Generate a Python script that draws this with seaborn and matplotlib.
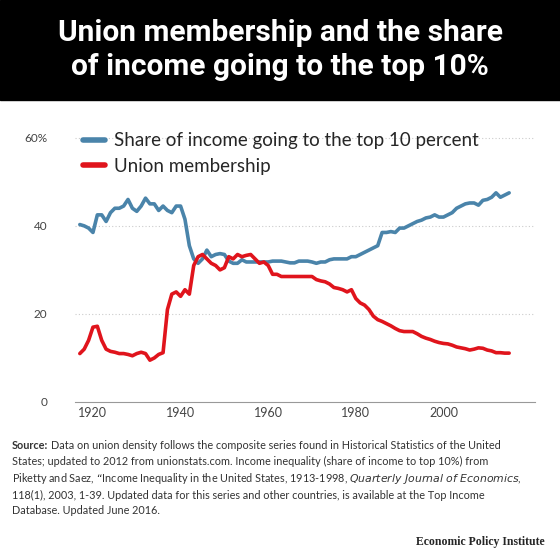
import numpy as np
import pandas as pd
import matplotlib
matplotlib.use("Agg")
import matplotlib.pyplot as plt
import seaborn as sns

years = list(range(1917, 2016))
top10 = [40.3, 40, 39.5, 38.5, 42.5, 42.5, 41, 43, 44, 44, 44.5, 46, 44, 43.3, 44.5, 46.3, 45, 45, 43.5, 44.5,
         43.5, 43, 44.5, 44.5, 41.5, 35.5, 32.5, 31.5, 32.5, 34.5, 33, 33.5, 33.7, 33.5, 32, 31.5, 31.5, 32.3, 31.8, 31.8,
         31.8, 31.8, 31.8, 31.8, 32, 32, 32, 31.8, 31.6, 31.6, 32, 32, 32, 31.8, 31.5, 31.8, 31.8, 32.3, 32.5, 32.5,
         32.5, 32.5, 33, 33, 33.5, 34, 34.5, 35, 35.5, 38.5, 38.5, 38.7, 38.5, 39.5, 39.5, 40, 40.5, 41, 41.3, 41.8,
         42, 42.5, 42, 42, 42.5, 43, 44, 44.5, 45, 45.2, 45.2, 44.7, 45.8, 46, 46.5, 47.5, 46.5, 47, 47.5]
union = [11, 12, 14, 17, 17.2, 14, 12, 11.5, 11.3, 11, 11, 10.8, 10.5, 11, 11.3, 11, 9.5, 10, 10.8, 11.2,
         21, 24.5, 25, 24, 25.5, 24.5, 31, 33, 33.5, 32.5, 31.5, 31, 30, 30.5, 33, 32.5, 33.5, 33, 33.3, 33.5,
         32.5, 31.5, 31.8, 31, 29, 29, 28.5, 28.5, 28.5, 28.5, 28.5, 28.5, 28.5, 28.5, 27.8, 27.5, 27.3, 26.8, 26, 25.8,
         25.5, 25, 25.5, 23.5, 22.5, 22, 21, 19.5, 18.7, 18.3, 17.8, 17.3, 16.7, 16.2, 16, 16, 16, 15.5, 14.9, 14.5,
         14.2, 13.8, 13.5, 13.3, 13.2, 12.9, 12.5, 12.3, 12.1, 11.8, 12, 12.3, 12.2, 11.8, 11.6, 11.2, 11.2, 11.1, 11.1]
series_names = ["Share of income going to the top 10 percent", "Union membership"]
yticks = [0, 20, 40, 60]
ytick_labels = ["0", "20", "40", "60%"]

df = pd.DataFrame({"year": years * 2,
                   "value": top10 + union,
                   "series": [series_names[0]] * len(years) + [series_names[1]] * len(years)})

sns.set_style("white")
plt.rcParams['font.family'] = ['Lato', 'DejaVu Sans']
fig = plt.figure(figsize=(5.6, 5.6), dpi=100)
fig.patch.set_facecolor("white")
fig.patches.append(matplotlib.patches.Rectangle((0, 1 - 100/560), 1, 100/560, transform=fig.transFigure,
                                                color="black", zorder=0))
fig.text(0.5, 1 - 50/560, "Union membership and the share\nof income going to the top 10%", ha="center",
         va="center", color="white", fontsize=21.5, fontweight="bold", linespacing=1.25,
         family=["Roboto", "DejaVu Sans"])

ax = fig.add_axes([75/560, 1 - 402/560, 460/560, 273/560])
sns.lineplot(data=df, x="year", y="value", hue="series", palette=["#4a84aa", "#e0141c"], linewidth=2.6, ax=ax)
ax.set_xlim(1915.9, 2020.9)
ax.set_ylim(0, 62)
ax.set_yticks(yticks)
ax.set_yticklabels(ytick_labels, fontsize=8.5, color="#444444")
ax.set_xticks([1920, 1940, 1960, 1980, 2000])
ax.tick_params(axis="x", labelsize=9, colors="#444444", length=0)
ax.tick_params(axis="y", length=0, pad=20)
for yl in [20, 40, 60]:
    ax.axhline(yl, color="#cccccc", linestyle=(0, (1, 2)), linewidth=0.8, zorder=0)
ax.set_xlabel("")
ax.set_ylabel("")
for s in ["top", "right", "left"]:
    ax.spines[s].set_visible(False)
ax.spines["bottom"].set_color("#999999")
ax.legend(frameon=False, loc="upper left", bbox_to_anchor=(0.0, 1.015), fontsize=13.5,
          handlelength=1.2, labelspacing=0.45, borderaxespad=0, handletextpad=0.5)
for ln in ax.get_legend().get_lines():
    ln.set_linewidth(4)

fig.canvas.draw()
r = fig.canvas.get_renderer()
t0 = fig.text(12/560, 1 - 440/560, "Source:", ha="left", va="top", fontsize=7.8, color="#333333",
              fontweight="bold")
w = t0.get_window_extent(r).width / 560
first = "Data on union density follows the composite series found in Historical Statistics of the United"
fig.text(12/560 + w + 3/560, 1 - 440/560, first, ha="left", va="top", fontsize=7.8, color="#333333")
src = ("States; updated to 2012 from unionstats.com. Income inequality (share of income to top 10%) from\n"
       "Piketty and Saez, \u201cIncome Inequality in the United States, 1913-1998, $\\it{Quarterly\\ Journal\\ of\\ Economics}$,\n"
       "118(1), 2003, 1-39. Updated data for this series and other countries, is available at the Top Income\n"
       "Database. Updated June 2016.")
fig.text(12/560, 1 - 456/560, src, ha="left", va="top", fontsize=7.8, color="#333333", linespacing=1.4)
fig.text(545/560, 1 - 548/560, "Economic Policy Institute", ha="right", va="bottom", fontsize=8.5,
         fontweight="bold", family=["Liberation Serif", "DejaVu Serif"])
fig.savefig("out.png", dpi=100)
